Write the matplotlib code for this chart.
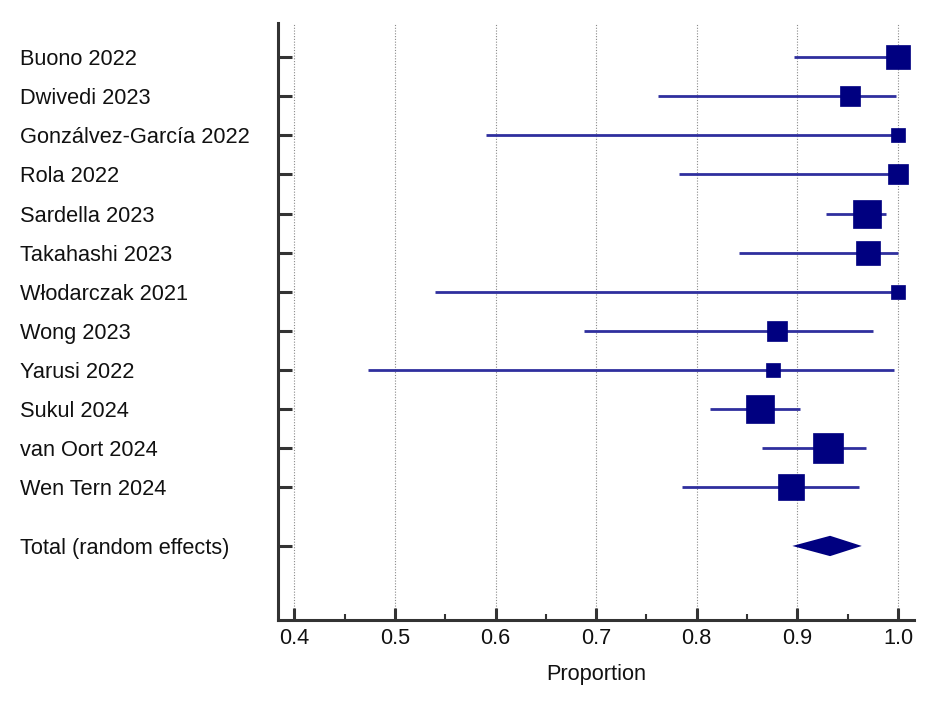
"""Forest plot of pooled proportions (random effects)."""

import matplotlib

matplotlib.use("Agg")
import matplotlib.pyplot as plt
import matplotlib.transforms as mtransforms
from matplotlib.ticker import MultipleLocator
import numpy as np

plt.rcParams["font.family"] = ["Liberation Sans", "DejaVu Sans"]

# ---------------------------------------------------------------------------
# data
# ---------------------------------------------------------------------------
studies = [
    "Buono 2022",
    "Dwivedi 2023",
    "Gonzálvez-García 2022",
    "Rola 2022",
    "Sardella 2023",
    "Takahashi 2023",
    "Włodarczak 2021",
    "Wong 2023",
    "Yarusi 2022",
    "Sukul 2024",
    "van Oort 2024",
    "Wen Tern 2024",
]
proportion = [1.000, 0.952, 1.000, 1.000, 0.969, 0.970, 1.000, 0.880, 0.876, 0.863, 0.930, 0.894]
ci_low = [0.897, 0.761, 0.590, 0.782, 0.928, 0.842, 0.540, 0.688, 0.473, 0.813, 0.865, 0.785]
ci_high = [1.000, 0.998, 1.000, 1.000, 0.988, 1.000, 1.000, 0.975, 0.996, 0.903, 0.968, 0.961]
weight = [8.7, 6.6, 3.2, 6.6, 13.8, 8.7, 3.2, 6.6, 3.2, 13.8, 14.7, 11.1]  # %

total_label = "Total (random effects)"
total_est = 0.9325
total_low = 0.895
total_high = 0.964

x_ticks = [0.4, 0.5, 0.6, 0.7, 0.8, 0.9, 1.0]

# ---------------------------------------------------------------------------
# styles
# ---------------------------------------------------------------------------
_BOX_COLOR = "#000080"
_CI_COLOR = "#2f2f9e"
_AXIS_COLOR = "#333333"
_TEXT_COLOR = "#111111"
_FS = 15.7

fig = plt.figure(figsize=(9.37, 7.02), dpi=100)
ax = fig.add_axes([0.297, 0.117, 0.678, 0.850])

rows = np.arange(len(studies))
total_row = len(studies) + 0.5

# --- CI lines + boxes ---
for y, est, lo, hi, w in zip(rows, proportion, ci_low, ci_high, weight):
    ax.plot([lo, hi], [y, y], color=_CI_COLOR, linewidth=2.0, solid_capstyle="butt", zorder=2)
    ax.plot(est, y, marker="s", markersize=5.62 * np.sqrt(w), color=_BOX_COLOR,
            markeredgecolor=_BOX_COLOR, markeredgewidth=0.5, zorder=3)

# --- pooled diamond ---
half_h = 0.26
ax.fill([total_low, total_est, total_high, total_est],
        [total_row, total_row - half_h, total_row, total_row + half_h],
        color=_BOX_COLOR, linewidth=0, zorder=3)

# --- axes ---
ax.set_xlim(0.384, 1.0155)
ax.set_ylim(total_row + 1.89, -0.87)

ax.set_xticks(x_ticks)
ax.set_xticklabels([f"{t:.1f}" for t in x_ticks])
ax.xaxis.set_minor_locator(MultipleLocator(0.05))
ax.set_yticks(list(rows) + [total_row])
ax.set_yticklabels([])

ax.grid(axis="x", which="major", color="#8a8a8a", linestyle=(0, (1, 1.5)), linewidth=0.8, zorder=0)

for side in ("top", "right"):
    ax.spines[side].set_visible(False)
for side in ("left", "bottom"):
    ax.spines[side].set_color(_AXIS_COLOR)
    ax.spines[side].set_linewidth(2.2)

ax.tick_params(axis="x", which="major", direction="in", length=9, width=2.2,
               color=_AXIS_COLOR, labelsize=_FS, labelcolor=_TEXT_COLOR, pad=6)
ax.tick_params(axis="x", which="minor", direction="in", length=4, width=1.5, color=_AXIS_COLOR)
ax.tick_params(axis="y", direction="in", length=10, width=2.2, color=_AXIS_COLOR)

ax.set_xlabel("Proportion", fontsize=_FS, color=_TEXT_COLOR, labelpad=11)

# --- study labels (left aligned at the figure edge) ---
trans = mtransforms.blended_transform_factory(fig.transFigure, ax.transData)
for y, name in zip(rows, studies):
    ax.text(0.0213, y, name, transform=trans, ha="left", va="center_baseline",
            fontsize=_FS, color=_TEXT_COLOR)
ax.text(0.0213, total_row, total_label, transform=trans, ha="left", va="center_baseline",
        fontsize=_FS, color=_TEXT_COLOR)

fig.savefig("out.png", dpi=100)
plt.close(fig)
